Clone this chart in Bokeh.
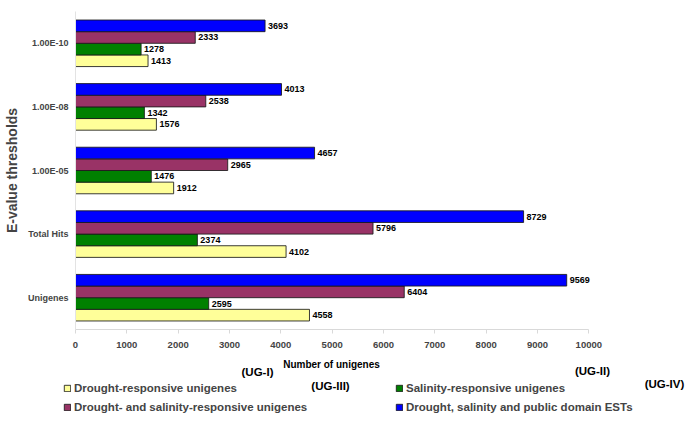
from bokeh.plotting import figure
from bokeh.layouts import column
from bokeh.models import (ColumnDataSource, FactorRange, Range1d, Label, Legend,
                          LegendItem, FixedTicker)
from bokeh.transform import dodge
from bokeh.core.properties import value
from bokeh.embed import file_html
from bokeh.resources import INLINE

# ---- data -------------------------------------------------------------
categories = ["Unigenes", "Total Hits", "1.00E-05", "1.00E-08", "1.00E-10"]
drought = [4558, 4102, 1912, 1576, 1413]                 # UG-I
salinity = [2595, 2374, 1476, 1342, 1278]                # UG-III
drought_salinity = [6404, 5796, 2965, 2538, 2333]        # UG-II
drought_salinity_public = [9569, 8729, 4657, 4013, 3693] # UG-IV
x_ticks = [0, 1000, 2000, 3000, 4000, 5000, 6000, 7000, 8000, 9000, 10000]

series_names = ["Drought-responsive unigenes",
                "Salinity-responsive unigenes",
                "Drought- and salinity-responsive unigenes",
                "Drought, salinity and public domain ESTs"]
series_colors = ["#FFFF99", "#008000", "#993366", "#0000FF"]
group_tags = ["(UG-I)", "(UG-III)", "(UG-II)", "(UG-IV)"]
x_title = "Number of unigenes"
y_title = "E-value thresholds"

FONT = "Liberation Sans"
EDGE = "#1a1a1a"

src = ColumnDataSource(dict(
    cat=categories,
    drought=drought,
    salinity=salinity,
    ds=drought_salinity,
    dsp=drought_salinity_public,
    drought_t=[str(v) for v in drought],
    salinity_t=[str(v) for v in salinity],
    ds_t=[str(v) for v in drought_salinity],
    dsp_t=[str(v) for v in drought_salinity_public],
))

# frame extends a little past 10000 so the last value label is not clipped;
# the axis itself stops at 10000
p = figure(y_range=FactorRange(*categories), x_range=Range1d(0, 10500),
           frame_width=539, frame_height=318,
           min_border_left=75, min_border_right=71,
           min_border_top=11, min_border_bottom=25,
           output_backend="svg", toolbar_location=None)
p.frame_align = False
p.outline_line_color = None
p.xgrid.grid_line_color = None
p.ygrid.grid_line_color = None

h = 0.183
fields = ["drought", "salinity", "ds", "dsp"]
offsets = [-1.5 * h, -0.5 * h, 0.5 * h, 1.5 * h]
for field, color, off in zip(fields, series_colors, offsets):
    p.hbar(y=dodge("cat", off, range=p.y_range), right=field, left=0,
           height=h, source=src, fill_color=color,
           line_color=EDGE, line_width=1, line_alpha=0.85)
    p.text(x=field, y=dodge("cat", off, range=p.y_range), text=field + "_t",
           source=src, x_offset=3, text_baseline="middle", text_align="left",
           text_font=value(FONT), text_font_style="bold",
           text_font_size="9px", text_color="black")

# axes
p.xaxis.ticker = FixedTicker(ticks=x_ticks)
p.xaxis.bounds = (x_ticks[0], x_ticks[-1])
p.xaxis.major_label_text_font = FONT
p.xaxis.major_label_text_font_style = "bold"
p.xaxis.major_label_text_font_size = "9.5px"
p.xaxis.major_label_standoff = 8
p.xaxis.axis_line_color = "#d9d9d9"
p.xaxis.major_tick_line_color = "#d9d9d9"
p.xaxis.major_tick_in = 0
p.xaxis.major_tick_out = 4
p.xaxis.minor_tick_line_color = None

p.yaxis.axis_label = y_title
p.yaxis.axis_label_text_font = FONT
p.yaxis.axis_label_text_font_style = "bold"
p.yaxis.axis_label_text_font_size = "14px"
p.yaxis.axis_label_standoff = 5
p.yaxis.major_label_text_font = FONT
p.yaxis.major_label_text_font_style = "bold"
p.yaxis.major_label_text_font_size = "9px"
p.yaxis.major_label_standoff = 1
p.yaxis.axis_line_color = "#e3e3e3"
p.yaxis.major_tick_line_color = None

# ---- lower panel: axis title, group tags and legend -------------------
q = figure(width=685, height=74, x_range=Range1d(0, 1), y_range=Range1d(0, 1),
           min_border=0, output_backend="svg", toolbar_location=None,
           x_axis_location=None, y_axis_location=None)
q.frame_align = False
q.outline_line_color = None
q.xgrid.grid_line_color = None
q.ygrid.grid_line_color = None

# legend swatches: zero-length renderers outside the view, used only for icons
icons = []
for color in series_colors:
    icons.append(q.hbar(y=[-5], right=[0], left=0, height=0.1, fill_color=color,
                        line_color=EDGE, line_width=1, line_alpha=0.85))
order = [0, 2, 1, 3]  # legend fills column by column
items = [LegendItem(label=series_names[i], renderers=[icons[i]]) for i in order]
legend = Legend(items=items, ncols=2, location=(63, 14),
                glyph_width=8, glyph_height=8, label_standoff=3,
                label_width=316, label_height=14, spacing=5, padding=0,
                margin=0, border_line_color=None, background_fill_alpha=0,
                label_text_font=FONT, label_text_font_style="bold",
                label_text_font_size="11.5px")
q.add_layout(legend, "center")

q.add_layout(Label(x=331, y=64, x_units="screen", y_units="screen", text=x_title,
                   text_align="center", text_baseline="middle",
                   text_font=FONT, text_font_style="bold",
                   text_font_size="10px", text_color="black"))

tag_pos = [(257, 57), (330, 43), (592, 58), (664, 45)]
for tag, (tx, ty) in zip(group_tags, tag_pos):
    q.add_layout(Label(x=tx, y=ty, x_units="screen", y_units="screen", text=tag,
                       text_align="center", text_baseline="middle",
                       text_font=FONT, text_font_style="bold",
                       text_font_size="11.5px", text_color="black"))

layout = column(p, q, spacing=0)
open("out.html", "w").write(file_html(layout, INLINE))
